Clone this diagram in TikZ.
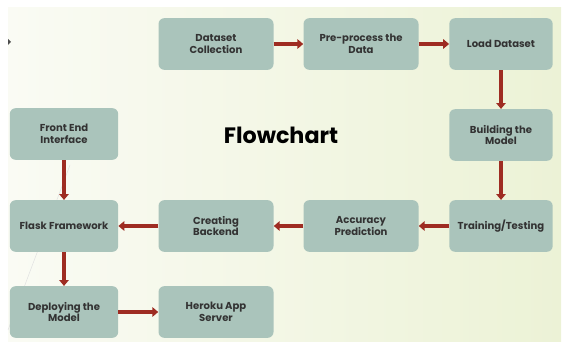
\documentclass[tikz,border=0pt]{standalone}
\usepackage{fontspec}
\setmainfont{Poppins}
\usepackage{xcolor}
\usetikzlibrary{positioning,arrows.meta}

\definecolor{boxfill}{RGB}{170,196,187}
\definecolor{arrowred}{RGB}{158,44,34}
\definecolor{slideL}{RGB}{250,251,244}
\definecolor{slideR}{RGB}{236,242,214}

\begin{document}
\begin{tikzpicture}[x=0.03cm,y=-0.03cm,
    stepbox/.style={draw=none,fill=boxfill,rounded corners=5pt,
      minimum width=3.45cm,minimum height=1.55cm,align=center,
      font=\fontsize{8.6}{10}\selectfont\bfseries,text=black!80},
    flow/.style={draw=arrowred,line width=3.4pt,
      -{Triangle[length=5pt,width=8pt]}}]
  \useasboundingbox (0,0) rectangle (569,345);

  % Slide background
  \shade[left color=slideL,right color=slideR] (8,8) rectangle (561,341);
  \fill[black!70] (8,39) -- (11,42) -- (8,45) -- cycle;
  \draw[black!12] (8,330) -- (70,165);

  % Top row
  \node[stepbox] (collect) at (216,44) {Dataset\\Collection};
  \node[stepbox] (prep) at (361,44) {Pre-process the\\Data};
  \node[stepbox,minimum width=3.1cm] (load) at (501,44) {Load Dataset};

  % Right column
  \node[stepbox,minimum width=3.1cm] (build) at (501,135) {Building the\\Model};
  \node[stepbox,minimum width=3.1cm] (train) at (501,226) {Training/Testing};

  % Middle row
  \node[stepbox] (acc) at (361,226) {Accuracy\\Prediction};
  \node[stepbox] (backend) at (216,226) {Creating\\Backend};
  \node[stepbox,minimum width=3.25cm] (flask) at (64,226) {Flask Framework};

  % Left column
  \node[stepbox,minimum width=3.25cm] (front) at (64,134) {Front End\\Interface};
  \node[stepbox,minimum width=3.25cm] (deploy) at (64,312) {Deploying the\\Model};
  \node[stepbox] (heroku) at (216,312) {Heroku App\\Server};

  % Title
  \node[font=\fontsize{19}{22}\selectfont\bfseries] (title) at (281,135) {Flowchart};

  % Connectors
  \draw[flow] (collect) -- (prep);
  \draw[flow] (prep) -- (load);
  \draw[flow] (load) -- (build);
  \draw[flow] (build) -- (train);
  \draw[flow] (train) -- (acc);
  \draw[flow] (acc) -- (backend);
  \draw[flow] (backend) -- (flask);
  \draw[flow] (front) -- (flask);
  \draw[flow] (flask) -- (deploy);
  \draw[flow] (deploy) -- (heroku);
\end{tikzpicture}
\end{document}
